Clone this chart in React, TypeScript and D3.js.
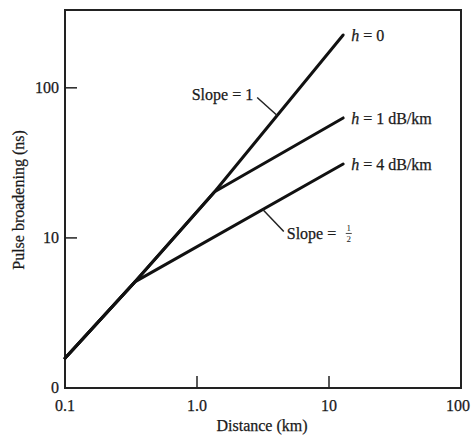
import React from "react";
import * as d3 from "d3";

const W = 471;
const H = 436;

// Series (distance km, pulse broadening ns)
const seriesNames = ["h = 0", "h = 1 dB/km", "h = 4 dB/km"];
const seriesH0: [number, number][] = [[0.1, 1.58], [0.338, 5.09], [1.36, 20.3], [12.8, 225]];
const seriesH1: [number, number][] = [[0.1, 1.58], [0.338, 5.09], [1.36, 20.3], [12.8, 63]];
const seriesH4: [number, number][] = [[0.1, 1.58], [0.338, 5.09], [12.8, 31.1]];
const allSeries = [seriesH0, seriesH1, seriesH4];

const xTicks = [0.1, 1, 10, 100];
const xTickLabels = ["0.1", "1.0", "10", "100"];
const yTicks = [1, 10, 100];
const yTickLabels = ["0", "10", "100"];

// annotation anchor points on the lines (distance values)
const slope1AnchorX = 4.05;
const slopeHalfAnchorX = 3.15;

export default function App() {
  const x = d3.scaleLog().domain([0.1, 100]).range([65, 461]);
  const y = d3.scaleLog().domain([1, 330]).range([388, 10]);
  const line = d3
    .line<[number, number]>()
    .x((d) => x(d[0]))
    .y((d) => y(d[1]));

  const font = "'Liberation Serif', 'DejaVu Serif', serif";
  const fs = 16;
  const ink = "#1a1a1a";

  const valueAt = (s: [number, number][], xv: number) => {
    for (let i = 0; i < s.length - 1; i++) {
      const [x0, y0] = s[i];
      const [x1, y1] = s[i + 1];
      if (xv >= x0 && xv <= x1) {
        const t = (Math.log(xv) - Math.log(x0)) / (Math.log(x1) - Math.log(x0));
        return Math.exp(Math.log(y0) + t * (Math.log(y1) - Math.log(y0)));
      }
    }
    return s[s.length - 1][1];
  };

  const a1x = x(slope1AnchorX);
  const a1y = y(valueAt(seriesH0, slope1AnchorX));
  const a2x = x(slopeHalfAnchorX);
  const a2y = y(valueAt(seriesH4, slopeHalfAnchorX));

  const [x0, x1] = x.range();
  const [yb, yt] = y.range();

  const textProps = { fill: ink, stroke: ink, strokeWidth: 0.25 };

  return (
    <svg
      width={W}
      height={H}
      style={{ position: "absolute", left: 0, top: 0, background: "#fff" }}
      fontFamily={font}
    >
      <rect x={0} y={0} width={W} height={H} fill="#fff" />
      {/* frame */}
      <rect
        x={x0}
        y={yt}
        width={x1 - x0}
        height={yb - yt}
        fill="none"
        stroke="#222"
        strokeWidth={2}
      />
      {/* x ticks */}
      {xTicks.map((t, i) => {
        const last = i === xTicks.length - 1;
        return (
          <g key={"xt" + i}>
            {i > 0 && !last && (
              <line x1={x(t)} x2={x(t)} y1={yb} y2={yb - 12} stroke="#222" strokeWidth={1.5} />
            )}
            <text
              x={last ? W - 1 : x(t)}
              y={yb + 23}
              textAnchor={last ? "end" : "middle"}
              fontSize={fs}
              {...textProps}
            >
              {xTickLabels[i]}
            </text>
          </g>
        );
      })}
      {/* y ticks */}
      {yTicks.map((t, i) => (
        <g key={"yt" + i}>
          {i > 0 && (
            <line x1={x0} x2={x0 + 12} y1={y(t)} y2={y(t)} stroke="#222" strokeWidth={1.5} />
          )}
          <text x={x0 - 6} y={y(t) + 5} textAnchor="end" fontSize={fs} {...textProps}>
            {yTickLabels[i]}
          </text>
        </g>
      ))}
      <text x={262} y={431} textAnchor="middle" fontSize={fs} {...textProps}>
        Distance (km)
      </text>
      <text
        transform={`translate(24,200) rotate(-90)`}
        textAnchor="middle"
        fontSize={fs}
        {...textProps}
      >
        Pulse broadening (ns)
      </text>
      {/* series */}
      {allSeries.map((s, i) => (
        <path key={"s" + i} d={line(s) || ""} fill="none" stroke="#111" strokeWidth={3} strokeLinecap="round" strokeLinejoin="round" />
      ))}
      {/* series labels */}
      {allSeries.map((s, i) => {
        const e = s[s.length - 1];
        const parts = seriesNames[i].split(" ");
        return (
          <text key={"l" + i} x={x(e[0]) + 8} y={y(e[1]) + 6} fontSize={fs} {...textProps}>
            <tspan fontStyle="italic">{parts[0]}</tspan>
            <tspan>{" " + parts.slice(1).join(" ")}</tspan>
          </text>
        );
      })}
      {/* annotations */}
      <line x1={a1x} y1={a1y} x2={a1x - 20} y2={a1y - 18} stroke="#222" strokeWidth={1.5} />
      <text x={a1x - 24} y={a1y - 15} textAnchor="end" fontSize={fs} {...textProps}>
        Slope = 1
      </text>
      <line x1={a2x} y1={a2y} x2={a2x + 21} y2={a2y + 22} stroke="#222" strokeWidth={1.5} />
      <text x={a2x + 24} y={a2y + 30} fontSize={fs} {...textProps}>
        Slope =
      </text>
      <text x={a2x + 24 + 62} y={a2y + 22} fontSize={9} fill={ink} textAnchor="middle">
        1
      </text>
      <line x1={a2x + 83} x2={a2x + 89} y1={a2y + 24} y2={a2y + 24} stroke={ink} strokeWidth={0.8} />
      <text x={a2x + 24 + 62} y={a2y + 33} fontSize={9} fill={ink} textAnchor="middle">
        2
      </text>
    </svg>
  );
}
